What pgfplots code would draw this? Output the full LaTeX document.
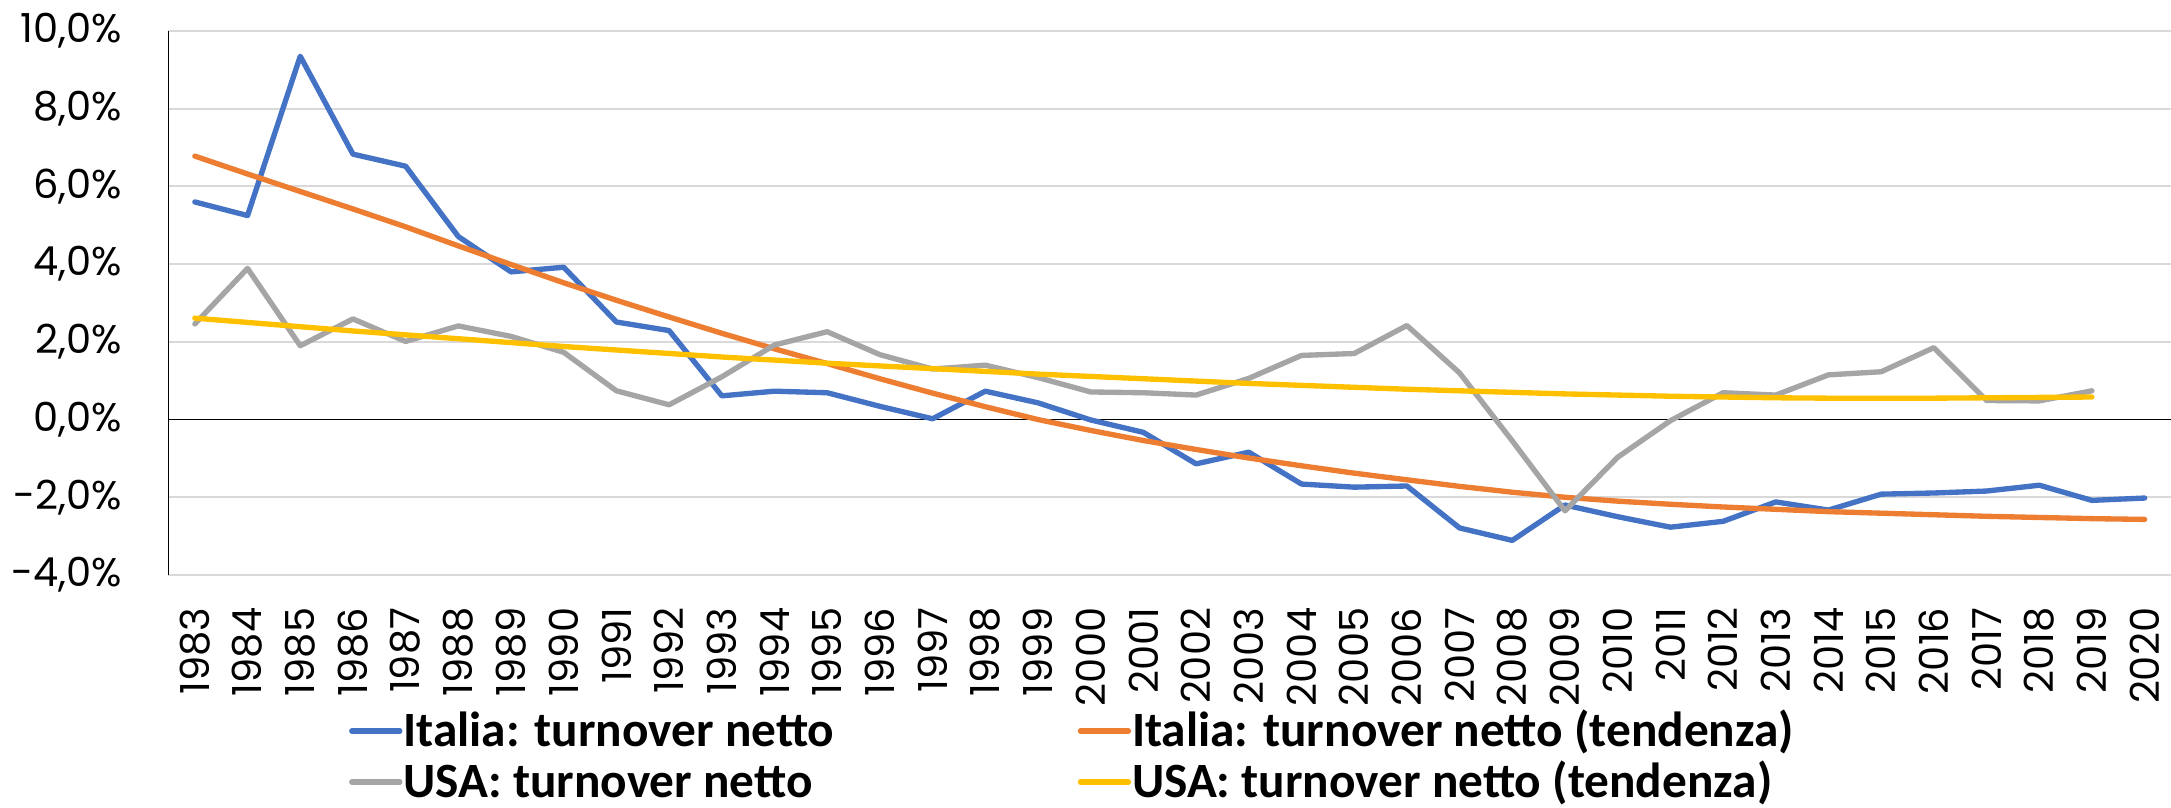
\documentclass[border=0pt]{standalone}
\usepackage{pgfplots}
\pgfplotsset{compat=1.18}
\usepackage{pgfplotstable}
\usepackage{fontspec}
\setmainfont{Poppins}
\newfontfamily\legfont{Carlito}
\definecolor{cblue}{HTML}{4472C4}
\definecolor{corange}{HTML}{ED7D31}
\definecolor{cgray}{HTML}{A5A5A5}
\definecolor{cyellow}{HTML}{FFC000}
\definecolor{cgrid}{HTML}{D9D9D9}

\pgfplotstableread{
x ita usa itatr usatr
0 5.60 2.46 6.78 2.61
1 5.25 3.89 6.32 2.50
2 9.35 1.90 5.87 2.39
3 6.83 2.59 5.42 2.28
4 6.52 2.01 4.96 2.18
5 4.71 2.41 4.47 2.08
6 3.80 2.14 3.99 1.98
7 3.92 1.73 3.52 1.88
8 2.51 0.74 3.07 1.79
9 2.29 0.38 2.64 1.70
10 0.61 1.10 2.22 1.61
11 0.73 1.92 1.82 1.53
12 0.69 2.26 1.44 1.45
13 0.34 1.67 1.05 1.38
14 0.02 1.30 0.68 1.31
15 0.73 1.40 0.33 1.24
16 0.43 1.08 0.00 1.17
17 -0.01 0.71 -0.28 1.11
18 -0.33 0.69 -0.54 1.05
19 -1.14 0.63 -0.77 0.99
20 -0.84 1.06 -0.99 0.93
21 -1.66 1.65 -1.19 0.88
22 -1.74 1.70 -1.38 0.83
23 -1.71 2.42 -1.55 0.78
24 -2.79 1.20 -1.72 0.74
25 -3.11 -0.55 -1.87 0.70
26 -2.20 -2.35 -2.00 0.66
27 -2.50 -0.97 -2.10 0.63
28 -2.77 -0.03 -2.18 0.60
29 -2.62 0.69 -2.25 0.58
30 -2.12 0.63 -2.31 0.56
31 -2.33 1.15 -2.37 0.55
32 -1.92 1.23 -2.41 0.55
33 -1.89 1.85 -2.45 0.55
34 -1.84 0.49 -2.49 0.56
35 -1.69 0.48 -2.52 0.57
36 -2.08 0.74 -2.55 0.58
37 -2.02 nan -2.57 nan
}\datatab

\begin{document}
\begin{tikzpicture}
\begin{axis}[
  scale only axis,
  width=600.75pt, height=163.2pt,
  xmin=-0.5, xmax=37.5,
  ymin=-4, ymax=10,
  axis x line*=bottom,
  axis y line*=left,
  x axis line style={draw=none},
  y axis line style={black, line width=0.5pt},
  xtick={0,...,37},
  xticklabels={1983,1984,1985,1986,1987,1988,1989,1990,1991,1992,1993,1994,1995,1996,1997,1998,1999,2000,2001,2002,2003,2004,2005,2006,2007,2008,2009,2010,2011,2012,2013,2014,2015,2016,2017,2018,2019,2020},
  xticklabel style={rotate=90, anchor=east, font=\fontsize{12}{12}\selectfont, xshift=-6.3pt},
  ytick={-4,-2,2,4,6,8,10},
  yticklabels={-4{,}0\%,-2{,}0\%,2{,}0\%,4{,}0\%,6{,}0\%,8{,}0\%,10{,}0\%},
  extra y ticks={0},
  extra y tick labels={0{,}0\%},
  extra y tick style={grid style={black, line width=0.5pt}},
  yticklabel style={font=\fontsize{12}{12}\selectfont, xshift=-10.4pt},
  tick style={draw=none},
  ymajorgrids,
  grid style={cgrid, line width=0.6pt},
  every axis plot/.append style={line width=1.6pt, line join=round, line cap=round},
  unbounded coords=jump,
  legend columns=2,
  legend cell align=left,
  legend image code/.code={\draw[#1, line width=1.6pt, line cap=round] (0pt,0pt) -- (14.4pt,0pt);},
  legend style={at={(axis description cs:0.0902,-0.247)}, anchor=north west,
    draw=none, fill=none, inner sep=0pt, outer sep=0pt,
    font=\legfont\bfseries\fontsize{14.8}{14.8}\selectfont,
    nodes={text height=10.5pt, text depth=1.5pt, inner ysep=0.5pt, inner xsep=0.3pt},
    row sep=2.3pt, column sep=0pt},
]
\addplot[cblue] table[x=x, y=ita] {\datatab};
\addlegendentry{\makebox[202pt][l]{Italia: turnover netto}}
\addplot[corange] table[x=x, y=itatr] {\datatab};
\addlegendentry{Italia: turnover netto (tendenza)}
\addplot[cgray] table[x=x, y=usa] {\datatab};
\addlegendentry{\makebox[202pt][l]{USA: turnover netto}}
\addplot[cyellow] table[x=x, y=usatr] {\datatab};
\addlegendentry{USA: turnover netto (tendenza)}
\end{axis}
\pgfresetboundingbox
\path[use as bounding box] ([shift={(-50.55pt,-69.7pt)}]current axis.south west) rectangle ([shift={(0pt,9.3pt)}]current axis.north east);
\end{tikzpicture}
\end{document}
